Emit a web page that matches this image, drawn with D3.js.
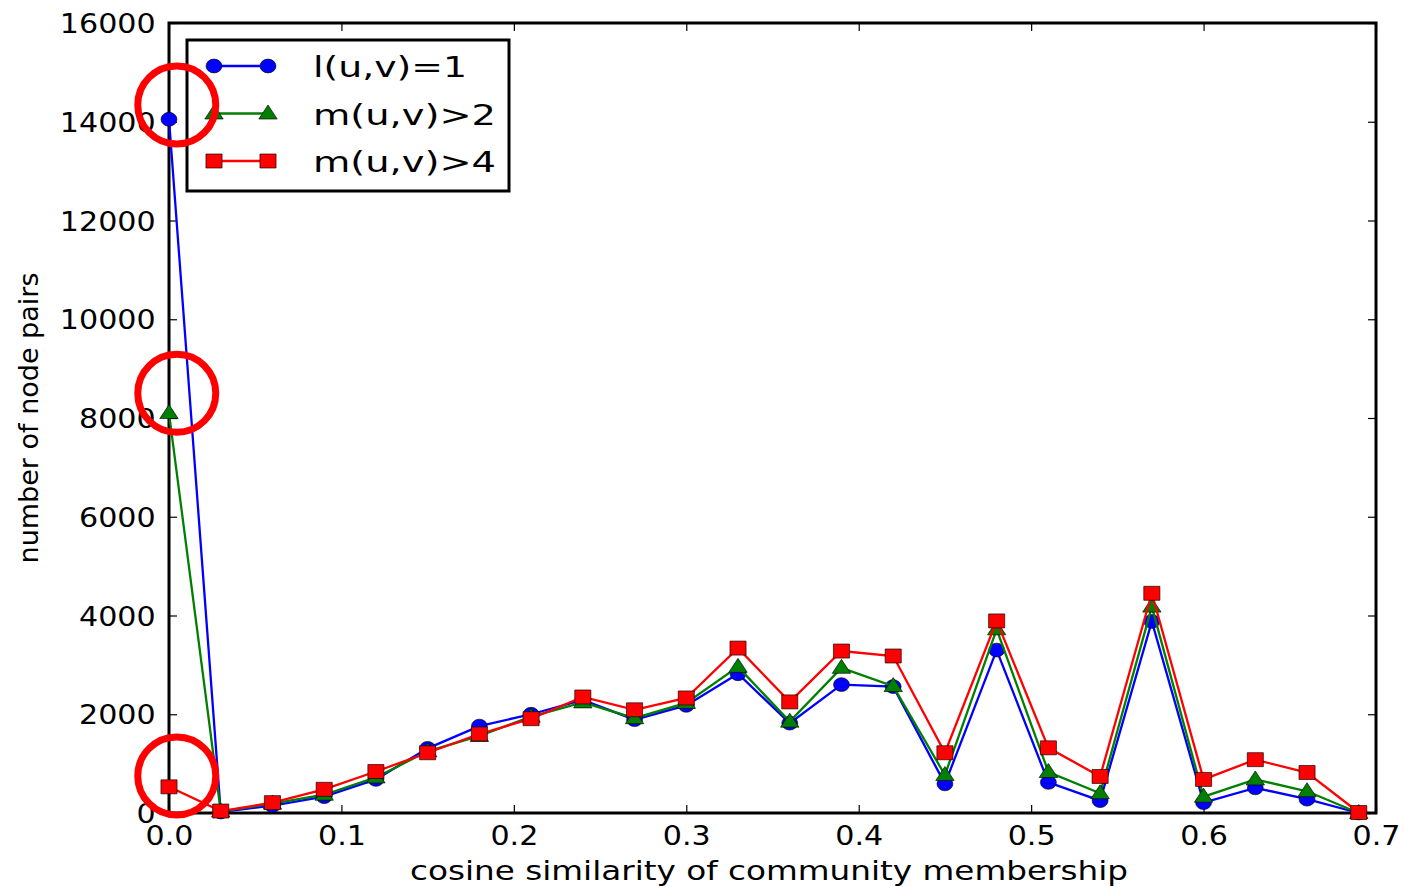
<!DOCTYPE html>
<html>
<head>
<meta charset="utf-8">
<script src="https://cdn.jsdelivr.net/npm/d3@7/dist/d3.min.js"></script>
<style>
  body { margin: 0; background: #fff; }
  text { font-family: "DejaVu Sans", sans-serif; fill: #000; }
</style>
</head>
<body>
<div id="chart"></div>
<script>
// x values: cosine similarity bins
var xValues = [0, 0.03, 0.06, 0.09, 0.12, 0.15, 0.18, 0.21, 0.24, 0.27, 0.30, 0.33,
               0.36, 0.39, 0.42, 0.45, 0.48, 0.51, 0.54, 0.57, 0.60, 0.63, 0.66, 0.69];

var seriesNames = ["l(u,v)=1", "m(u,v)>2", "m(u,v)>4"];
var blueValues  = [14050, 20, 150, 330, 680, 1310, 1760, 2000, 2290, 1890, 2180, 2820,
                   1820, 2600, 2560, 590, 3300, 620, 250, 3880, 210, 510, 280, 0];
var greenValues = [8100, 30, 190, 370, 720, 1250, 1560, 1950, 2240, 1920, 2230, 2960,
                   1850, 2940, 2570, 770, 3720, 830, 400, 4180, 330, 680, 440, 0];
var redValues   = [530, 40, 210, 480, 840, 1220, 1600, 1910, 2350, 2090, 2330, 3340,
                   2250, 3280, 3180, 1220, 3890, 1320, 740, 4450, 680, 1080, 820, 10];

var xTicks = [0, 0.1, 0.2, 0.3, 0.4, 0.5, 0.6, 0.7];
var yTicks = [0, 2000, 4000, 6000, 8000, 10000, 12000, 14000, 16000];

// red rings drawn on the figure (x, y in data units)
var highlightX = [0.0045, 0.0045, 0.0045];
var highlightY = [14340, 8500, 750];

const width = 1404, height = 887,
    margin = {left: 169, top: 23, right: 28, bottom: 74};
const stretch = 1.15;   // picture is wider than tall, text & markers look stretched

const svg = d3.select("#chart").append("svg")
    .attr("width", width)
    .attr("height", height);

const xScale = d3.scaleLinear().domain([0, 0.7]).range([margin.left, width - margin.right]);
const yScale = d3.scaleLinear().domain([0, 16000]).range([height - margin.bottom, margin.top]);

// axes, ticks inward like classic matplotlib
const xAxis = svg.append("g")
    .attr("transform", `translate(0, ${yScale(0)})`)
    .call(d3.axisBottom(xScale).tickValues(xTicks).tickFormat(d3.format(".1f")).tickSizeInner(-8).tickSizeOuter(0).tickPadding(16));
const yAxis = svg.append("g")
    .attr("transform", `translate(${xScale(0)}, 0)`)
    .call(d3.axisLeft(yScale).tickValues(yTicks).tickFormat(d3.format("d")).tickSizeInner(-8).tickSizeOuter(0).tickPadding(12));
const xTop = svg.append("g")
    .attr("transform", `translate(0, ${yScale(16000)})`)
    .call(d3.axisTop(xScale).tickValues(xTicks).tickFormat("").tickSizeInner(-8).tickSizeOuter(0));
const yRight = svg.append("g")
    .attr("transform", `translate(${xScale(0.7)}, 0)`)
    .call(d3.axisRight(yScale).tickValues(yTicks).tickFormat("").tickSizeInner(-8).tickSizeOuter(0));

[xAxis, yAxis, xTop, yRight].forEach(g => {
    g.select(".domain").remove();
    g.selectAll(".tick line").attr("stroke", "#000").attr("stroke-width", 1.2);
});
xAxis.selectAll(".tick text").attr("font-size", 27).attr("dy", "0.6em")
    .attr("transform", `scale(${stretch * 0.97},1)`);
yAxis.selectAll(".tick text").attr("font-size", 27).attr("dy", "0.36em")
    .attr("transform", `scale(${stretch * 0.97},1)`);

// frame
svg.append("rect")
    .attr("x", xScale(0)).attr("y", yScale(16000))
    .attr("width", xScale(0.7) - xScale(0))
    .attr("height", yScale(0) - yScale(16000))
    .attr("fill", "none").attr("stroke", "#000").attr("stroke-width", 3);

// axis labels
svg.append("text")
    .attr("x", 410).attr("y", 880)
    .attr("font-size", 27)
    .attr("textLength", 718).attr("lengthAdjust", "spacingAndGlyphs")
    .text("cosine similarity of community membership");
svg.append("text")
    .attr("transform", "translate(38, 418) rotate(-90)")
    .attr("text-anchor", "middle")
    .attr("font-size", 27)
    .text("number of node pairs");

// marker shapes
const circlePath = d3.symbol().type(d3.symbolCircle).size(150)();
const trianglePath = "M0,-8.5L8,5.5L-8,5.5Z";
const squarePath = "M-7,-7H7V7H-7Z";

const series = [
    {name: seriesNames[0], values: blueValues,  color: "#0000ff", marker: circlePath},
    {name: seriesNames[1], values: greenValues, color: "#008000", marker: trianglePath},
    {name: seriesNames[2], values: redValues,   color: "#ff0000", marker: squarePath}
];

const line = d3.line()
    .x((d, i) => xScale(xValues[i]))
    .y(d => yScale(d));

const plot = svg.append("g");
series.forEach(s => {
    plot.append("path")
        .datum(s.values)
        .attr("d", line)
        .attr("fill", "none")
        .attr("stroke", s.color)
        .attr("stroke-width", 2.3);
    plot.selectAll(null)
        .data(s.values)
        .enter()
        .append("path")
            .attr("d", s.marker)
            .attr("transform", (d, i) => `translate(${xScale(xValues[i])}, ${yScale(d)}) scale(${stretch},1)`)
            .attr("fill", s.color)
            .attr("stroke", "#000")
            .attr("stroke-width", 0.6);
});

// legend
const legend = svg.append("g");
legend.append("rect")
    .attr("x", 187).attr("y", 40)
    .attr("width", 322).attr("height", 151)
    .attr("fill", "#fff").attr("stroke", "#000").attr("stroke-width", 3);
const legendWidths = [154, 183, 183];
series.forEach((s, i) => {
    const y = 66 + i * 47.5;
    legend.append("line")
        .attr("x1", 214).attr("x2", 268)
        .attr("y1", y).attr("y2", y)
        .attr("stroke", s.color).attr("stroke-width", 2.3);
    [214, 268].forEach(x => {
        legend.append("path")
            .attr("d", s.marker)
            .attr("transform", `translate(${x}, ${y}) scale(${stretch},1)`)
            .attr("fill", s.color)
            .attr("stroke", "#000")
            .attr("stroke-width", 0.6);
    });
    legend.append("text")
        .attr("x", 313).attr("y", y + 11)
        .attr("font-size", 28)
        .attr("textLength", legendWidths[i]).attr("lengthAdjust", "spacingAndGlyphs")
        .text(s.name);
});

// red highlight rings
svg.append("g").selectAll("circle")
    .data(highlightY)
    .enter()
    .append("circle")
        .attr("cx", (d, i) => xScale(highlightX[i]))
        .attr("cy", d => yScale(d))
        .attr("r", 39)
        .attr("fill", "none")
        .attr("stroke", "#ff0000")
        .attr("stroke-width", 7);
</script>
</body>
</html>
